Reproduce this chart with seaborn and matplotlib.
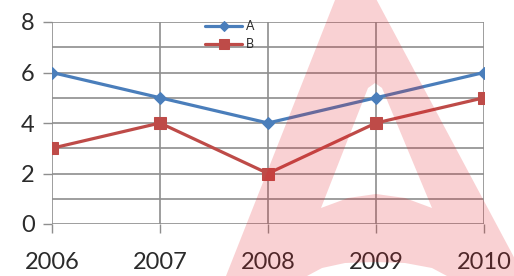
import matplotlib
matplotlib.use("Agg")
import matplotlib.pyplot as plt
import seaborn as sns
from matplotlib.path import Path
from matplotlib.patches import PathPatch

years = [2006, 2007, 2008, 2009, 2010]
series_a = [6, 5, 4, 5, 6]
series_b = [3, 4, 2, 4, 5]
y_ticks = [0, 2, 4, 6, 8]

blue = "#4A7EBB"
red = "#BE4B48"
grid_col = "#8E8E8E"

sns.set_theme(style="white")
plt.rcParams["font.family"] = ["Lato", "DejaVu Sans"]
plt.rcParams.update({
    "xtick.bottom": True, "ytick.left": True,
    "xtick.major.size": 6.5, "ytick.major.size": 6.5,
    "xtick.major.width": 1.0, "ytick.major.width": 1.0,
    "xtick.color": grid_col, "ytick.color": grid_col,
    "xtick.direction": "out", "ytick.direction": "out",
    "ytick.minor.size": 0, "ytick.minor.left": False,
})

fig = plt.figure(figsize=(5.14, 2.76), dpi=100)
ax = fig.add_axes([52 / 514, 1 - 224 / 276, 432 / 514, 202 / 276])

sns.lineplot(x=years, y=series_a, ax=ax, color=blue, linewidth=2.3,
             marker="D", markersize=6.5, markeredgecolor=blue, label="A", zorder=3)
sns.lineplot(x=years, y=series_b, ax=ax, color=red, linewidth=2.3,
             marker="s", markersize=9, markeredgecolor=red, label="B", zorder=3)

ax.set_xlim(years[0], years[-1])
ax.set_ylim(0, 8)
ax.set_xticks(years)
ax.set_xticklabels([str(y) for y in years])
ax.set_yticks(y_ticks)
ax.set_yticks(range(0, 9), minor=True)

ax.grid(True, which="both", axis="y", color=grid_col, linewidth=1.2)
ax.grid(True, which="major", axis="x", color=grid_col, linewidth=1.2)
for s in ax.spines.values():
    s.set_visible(False)

ax.tick_params(axis="both", which="major", labelsize=17, labelcolor="#2b2b2b")
ax.tick_params(axis="x", pad=14)
ax.tick_params(axis="y", pad=6)
ax.set_xlabel("")
ax.set_ylabel("")

leg = ax.legend(loc="upper left", bbox_to_anchor=(0.354, 1.01), frameon=False,
                fontsize=9, handlelength=3.0, handletextpad=0.3, labelspacing=0.5,
                borderpad=0, borderaxespad=0, markerscale=0.8)
for t in leg.get_texts():
    t.set_color("#2b2b2b")

# watermark logo drawn over the chart, in pixel units of the figure
def px(x, y):
    return (x / 514, 1 - y / 276)

outer = [(337, -5), (374, -5), (524, 276), (447, 276), (432, 268), (405, 263),
         (375, 262), (345, 263), (322, 268), (307, 276), (226, 276)]
inner = [(375, 83), (382, 88), (432, 208), (405, 198), (376, 194), (348, 198),
         (321, 208), (368, 88)]
inner = inner[::-1]
verts, codes = [], []
for poly in (outer, inner):
    pts = [px(*p) for p in poly]
    verts += pts + [pts[0]]
    codes += [Path.MOVETO] + [Path.LINETO] * (len(pts) - 1) + [Path.CLOSEPOLY]
logo = PathPatch(Path(verts, codes), facecolor="#E31B23", edgecolor="none",
                 alpha=0.2, transform=fig.transFigure, zorder=10)
fig.add_artist(logo)

fig.savefig("out.png", dpi=100)
